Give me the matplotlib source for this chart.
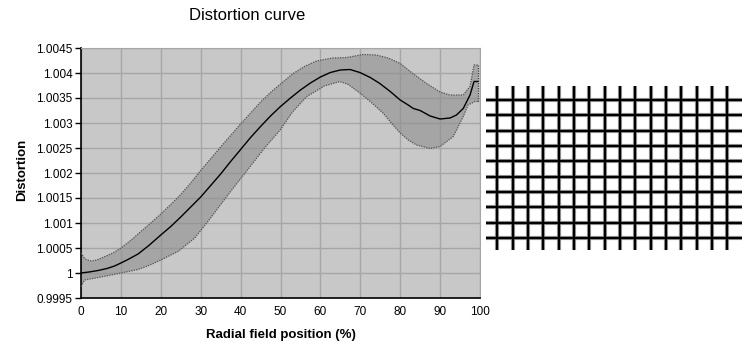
import numpy as np
import matplotlib
matplotlib.use("Agg")
import matplotlib.pyplot as plt

# Mean distortion along the radial field position (%)
x_mean = [0, 2, 4.3, 6.5, 8.4, 10, 12, 14.3, 17, 20, 22.5, 25, 27.5, 30, 32.5,
          35, 37.5, 40, 42.5, 45, 47.5, 50, 52.5, 55, 57.5, 60, 62.5, 65, 67.4,
          69.9, 72.5, 74.9, 77.5, 80, 82, 83.3, 85, 87.5, 90, 92.5, 94.1,
          95.8, 97.5, 98.5, 99.5]
mean = [1.0, 1.00002, 1.00005, 1.00009, 1.00014, 1.0002, 1.00028, 1.00038,
        1.00055, 1.00076, 1.00093, 1.00112, 1.00132, 1.00152, 1.00175,
        1.00198, 1.00223, 1.00247, 1.00271, 1.00293, 1.00314, 1.00333,
        1.0035, 1.00366, 1.0038, 1.00392, 1.00401, 1.00406, 1.00407, 1.00401,
        1.00391, 1.00379, 1.00363, 1.00346, 1.00336, 1.00329, 1.00325,
        1.00314, 1.00308, 1.0031, 1.00316, 1.00329, 1.00356, 1.00383, 1.00383]

# Upper envelope
x_up = [0, 1, 2.5, 4, 6, 8, 10, 12.6, 15, 17.5, 20, 22.5, 25, 27.5, 30, 35, 40,
        42.4, 45, 47.5, 50, 53, 56, 59, 63, 66.6, 70.7, 74, 77, 80, 83, 86.6,
        90, 92.5, 95.8, 97.5, 98.5, 99.5]
upper = [1.0004, 1.00028, 1.00024, 1.00026, 1.00033, 1.0004, 1.0005, 1.00066,
         1.00083, 1.001, 1.00118, 1.00137, 1.00157, 1.0018, 1.00205, 1.00252,
         1.00298, 1.00319, 1.00342, 1.00361, 1.00378, 1.00398, 1.00413,
         1.00424, 1.0043, 1.00431, 1.00437, 1.00436, 1.0043, 1.00419, 1.004,
         1.00379, 1.00362, 1.00356, 1.00356, 1.00373, 1.00416, 1.00416]

# Lower envelope
x_lo = [0, 0.9, 4.3, 7, 10, 14.3, 17, 20, 24.3, 28.5, 31.8, 37, 42.4, 46, 49.9,
        53, 56.6, 61, 64.9, 67, 69.9, 72.5, 75.7, 78, 80, 82, 84.1, 87.5, 90,
        93.3, 95.8, 97, 98.7, 99.5]
lower = [0.99973, 0.99986, 0.99991, 0.99995, 1.0, 1.00007, 1.00015, 1.00026,
         1.00043, 1.0007, 1.00103, 1.00158, 1.00213, 1.0025, 1.00286, 1.00322,
         1.00353, 1.00374, 1.00383, 1.00377, 1.0036, 1.00343, 1.0032, 1.00298,
         1.0028, 1.00266, 1.00256, 1.00249, 1.00253, 1.00273, 1.00313,
         1.00336, 1.00343, 1.00343]

x_ticks = [0, 10, 20, 30, 40, 50, 60, 70, 80, 90, 100]
y_ticks = [0.9995, 1.0, 1.0005, 1.001, 1.0015, 1.002, 1.0025, 1.003, 1.0035,
           1.004, 1.0045]
y_tick_labels = ["0.9995", "1", "1.0005", "1.001", "1.0015", "1.002",
                 "1.0025", "1.003", "1.0035", "1.004", "1.0045"]

# Test grid pattern: number of vertical and horizontal lines
grid_cols = 16
grid_rows = 10

W, H = 756, 348
fig = plt.figure(figsize=(W / 100, H / 100), dpi=100)
fig.patch.set_facecolor("white")

font = "Liberation Sans"

ax = fig.add_axes([81 / W, (H - 298) / H, 399 / W, 250 / H])
ax.set_facecolor("#c8c8c8")
ax.set_xlim(0, 100)
ax.set_ylim(0.9995, 1.0045)
ax.set_xticks(x_ticks)
ax.set_yticks(y_ticks)
ax.set_yticklabels(y_tick_labels)
ax.grid(True, color="#a6a6a6", linewidth=1)
ax.set_axisbelow(True)

poly_x = np.concatenate([x_up, x_lo[::-1]])
poly_y = np.concatenate([upper, lower[::-1]])
ax.fill(poly_x, poly_y, color="#8e8e8e", alpha=0.6, linewidth=0, zorder=2)
ax.plot(x_up, upper, color="#505050", linewidth=0.9, linestyle=(0, (1, 1)), zorder=3)
ax.plot(x_lo, lower, color="#505050", linewidth=0.9, linestyle=(0, (1, 1)), zorder=3)
ax.plot([x_up[-1], x_lo[-1]], [upper[-1], lower[-1]], color="#404040",
        linewidth=0.9, linestyle=(0, (1, 1)), zorder=3)
ax.plot(x_mean, mean, color="black", linewidth=1.0, zorder=4)

for side in ("top", "right"):
    ax.spines[side].set_color("#a6a6a6")
for side in ("left", "bottom"):
    ax.spines[side].set_color("black")
    ax.spines[side].set_linewidth(1.2)
ax.tick_params(axis="y", direction="out", length=4, width=1, color="black",
               labelsize=8.5, pad=2)
ax.tick_params(axis="x", length=0, labelsize=8.5, pad=6)
for lbl in ax.get_xticklabels() + ax.get_yticklabels():
    lbl.set_fontfamily(font)

ax.set_xlabel("Radial field position (%)", fontfamily=font, fontsize=9.5,
              fontweight="bold", labelpad=8)
fig.text(22 / W, 1 - 170 / H, "Distortion", rotation=90, ha="center",
         va="center", fontfamily=font, fontsize=9.5, fontweight="bold")
fig.text(247 / W, 1 - 15 / H, "Distortion curve", ha="center", va="center",
         fontfamily=font, fontsize=12)

# Grid test pattern on the right
gx0, gx1, gy0, gy1 = 486, 742, 86, 250
gax = fig.add_axes([gx0 / W, (H - gy1) / H, (gx1 - gx0) / W, (gy1 - gy0) / H])
gax.set_xlim(gx0, gx1)
gax.set_ylim(gy1, gy0)
gax.axis("off")
col_pos = 497.3 + 15.33 * np.arange(grid_cols)
row_pos = 100 + 15.33 * np.arange(grid_rows)
for xc in col_pos:
    gax.plot([xc, xc], [gy0, gy1], color="#a8a8a8", linewidth=3.0,
             solid_capstyle="butt")
for yr in row_pos:
    gax.plot([gx0, gx1], [yr, yr], color="#a8a8a8", linewidth=3.0,
             solid_capstyle="butt")
for xc in col_pos:
    gax.plot([xc, xc], [gy0, gy1], color="black", linewidth=1.7,
             solid_capstyle="butt")
for yr in row_pos:
    gax.plot([gx0, gx1], [yr, yr], color="black", linewidth=1.7,
             solid_capstyle="butt")

fig.savefig("out.png", dpi=100, facecolor="white")
